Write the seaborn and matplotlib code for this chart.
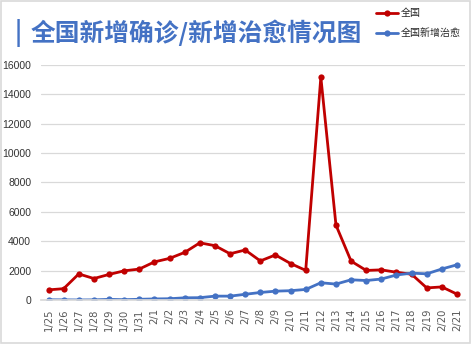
import matplotlib
matplotlib.use("Agg")
import matplotlib.pyplot as plt
import seaborn as sns
import pandas as pd
import numpy as np
from matplotlib.patches import Rectangle

dates = ["1/25", "1/26", "1/27", "1/28", "1/29", "1/30", "1/31", "2/1", "2/2", "2/3",
         "2/4", "2/5", "2/6", "2/7", "2/8", "2/9", "2/10", "2/11", "2/12", "2/13",
         "2/14", "2/15", "2/16", "2/17", "2/18", "2/19", "2/20", "2/21"]
confirmed = [688, 769, 1771, 1459, 1737, 1982, 2102, 2590, 2829, 3235,
             3887, 3694, 3143, 3399, 2656, 3062, 2478, 2015, 15152, 5090,
             2641, 2009, 2048, 1886, 1749, 820, 889, 397]
cured = [15, 9, 2, 9, 43, 21, 47, 72, 85, 147,
         157, 262, 261, 387, 510, 600, 632, 716, 1171, 1081,
         1373, 1323, 1425, 1701, 1824, 1779, 2109, 2393]
series_names = ["全国", "全国新增治愈"]
yticks = [0, 2000, 4000, 6000, 8000, 10000, 12000, 14000, 16000]

RED = "#C00000"
BLUE = "#4472C4"

sns.set_theme(style="white")
plt.rcParams["font.family"] = ["Noto Sans CJK SC", "DejaVu Sans"]

df = pd.DataFrame({
    "idx": list(range(len(dates))) * 2,
    "value": confirmed + cured,
    "series": [series_names[0]] * len(dates) + [series_names[1]] * len(dates),
})

fig = plt.figure(figsize=(4.76, 3.46), dpi=100)
ax = fig.add_axes([0.086, 0.133, 0.890, 0.680])

sns.lineplot(data=df, x="idx", y="value", hue="series", palette=[RED, BLUE],
             marker="o", markersize=4.5, markeredgewidth=0, linewidth=2.0,
             sort=False, ax=ax)

ax.set_xlim(-0.5, len(dates) - 0.5)
ax.set_ylim(0, 16000)
ax.set_yticks(yticks)
ax.set_yticklabels([str(v) for v in yticks], fontsize=7.5, color="#333333",
                   family=["Liberation Sans", "DejaVu Sans"])
ax.set_xticks(range(len(dates)))
ax.set_xticklabels(dates, rotation=90, fontsize=7.2, color="#595959",
                   family=["DejaVu Sans"])
ax.set_xticks(np.arange(-0.5, len(dates), 1), minor=True)
ax.tick_params(axis="x", which="major", length=0, pad=6)
ax.tick_params(axis="x", which="minor", length=4, color="#d9d9d9", width=0.8)
ax.tick_params(axis="y", length=0, pad=7)
ax.grid(axis="y", color="#d9d9d9", linewidth=0.9)
ax.set_axisbelow(True)
for s in ["top", "right", "left"]:
    ax.spines[s].set_visible(False)
ax.spines["bottom"].set_color("#d9d9d9")
ax.set_xlabel("")
ax.set_ylabel("")

leg = ax.legend(loc="upper left", bbox_to_anchor=(376 / 476, 1 - 8 / 346),
                bbox_transform=fig.transFigure, frameon=False, fontsize=7.2,
                handlelength=2.2, handletextpad=0.3, labelspacing=1.0,
                borderaxespad=0, borderpad=0)

fig.text(15 / 476, 1 - 33 / 346, "|", fontsize=17.5, fontweight="bold",
         color=BLUE, va="center", ha="left")
fig.text(31 / 476, 1 - 33 / 346, "全国新增确诊/新增治愈情况图", fontsize=17.8,
         fontweight="bold", color=BLUE, va="center", ha="left")

fig.patches.append(Rectangle((1 / 476, 3 / 346), 469 / 476, 342 / 346,
                             transform=fig.transFigure, fill=False,
                             edgecolor="#d9d9d9", linewidth=1.2))

fig.savefig("out.png", dpi=100)
